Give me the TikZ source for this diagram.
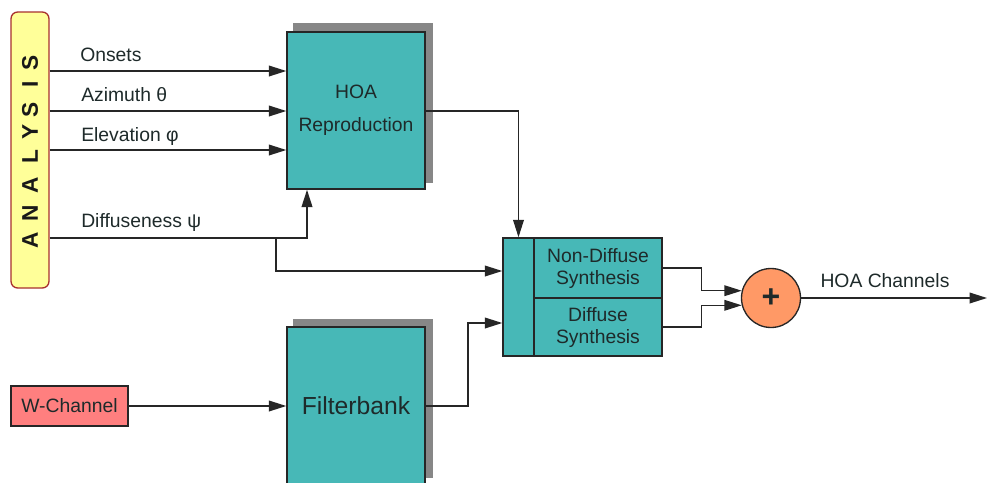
\documentclass[tikz,border=0pt]{standalone}
\usepackage{fontspec}
\setmainfont{Liberation Sans}
\usetikzlibrary{arrows.meta,calc}
\definecolor{teal}{HTML}{47B8B7}
\definecolor{shad}{HTML}{878787}
\definecolor{txt}{HTML}{1E2A2A}
\definecolor{anafill}{HTML}{FFFF99}
\definecolor{anadraw}{HTML}{A8302E}
\definecolor{wfill}{HTML}{FF7F7F}
\definecolor{sumfill}{HTML}{FF9966}
\begin{document}
\begin{tikzpicture}[x=0.75pt,y=-0.75pt,
  lbl/.style={font=\fontsize{14.5}{17}\selectfont,text=txt,inner sep=0pt},
  blk/.style={draw=black!85,line width=1.1pt,fill=teal,inner sep=0pt,text=txt,align=center},
  arr/.style={line width=1pt,draw=black!85,-{Triangle[length=13pt,width=8pt]}},
  ln/.style={line width=1pt,draw=black!85},
  letter/.style={font=\bfseries\fontsize{17}{19}\selectfont,rotate=90,inner sep=0pt,text=black!90}]
\useasboundingbox (0,0) rectangle (988,482);
\clip (0,0) rectangle (988,482);
% shadows
\fill[shad] (293,23) rectangle (433,183);
\fill[shad] (293,319) rectangle (433,478);
% analysis
\node[draw=anadraw,fill=anafill,line width=1pt,rounded corners=5pt,minimum width=28.5pt,minimum height=207pt,inner sep=0pt] (ana) at (30,150) {};
\foreach \l/\y [count=\i] in {A/240,N/213,A/185,L/157,Y/132,S/110,I/84,S/63}
  \node[letter] (al\i) at (30,\y) {\l};
% blocks
\node[blk,minimum width=103.5pt,minimum height=117.75pt,font=\fontsize{14.5}{24.75}\selectfont] (hoa) at (356,110.5) {HOA\\Reproduction};
\node[blk,minimum width=103.5pt,minimum height=144.75pt] (fb) at (356,423.5) {};
\node[font=\fontsize{18.5}{22}\selectfont,text=txt,inner sep=0pt] (fbl) at (356,406) {Filterbank};
\node[draw=black!85,line width=1pt,fill=wfill,minimum width=87.75pt,minimum height=30pt,inner sep=0pt,lbl] (wch) at (69.5,406) {W-Channel};
\node[blk,minimum width=23.25pt,minimum height=88.5pt] (syn) at (518.5,297) {};
\node[blk,minimum width=96pt,minimum height=45pt,font=\fontsize{14.5}{16.5}\selectfont] (nd) at (598,268) {Non-Diffuse\\Synthesis};
\node[blk,minimum width=96pt,minimum height=43.5pt,font=\fontsize{14.5}{16.5}\selectfont] (df) at (598,327) {Diffuse\\Synthesis};
\node[circle,draw=black!85,line width=1pt,fill=sumfill,minimum size=44.25pt,inner sep=0pt,font=\bfseries\fontsize{24}{24}\selectfont,text=txt] (sum) at (771,298) {+};
\coordinate (out) at (987,298);
% labels
\node[lbl,anchor=west] (l1) at (80,55) {Onsets};
\node[lbl,anchor=west] (l2) at (81,95) {Azimuth θ};
\node[lbl,anchor=west] (l3) at (81,136) {Elevation φ};
\node[lbl,anchor=west] (l4) at (81,222) {Diffuseness ψ};
\node[lbl] (l5) at (885,281) {HOA Channels};
% connectors
\draw[arr] (ana.east |- 0,71) -- (hoa.west |- 0,71);
\draw[arr] (ana.east |- 0,111) -- (hoa.west |- 0,111);
\draw[arr] (ana.east |- 0,150) -- (hoa.west |- 0,150);
\draw[arr,line width=1.3pt] (ana.east |- 0,238) -| (hoa.south -| 307,0);
\coordinate (br) at (276,238);
\draw[arr] (br) |- (syn.west |- 0,271);
\draw[arr] (hoa.east |- 0,111) -| (syn.north);
\draw[arr] (wch.east) -- (fb.west |- wch.east);
\draw[arr] (fb.east |- 0,406) -- (468,406) |- (syn.west |- 0,323);
\draw[arr] (nd.east) -- ++(39,0) |- (sum.166);
\draw[arr] (df.east) -- ++(39,0) |- (sum.194);
\draw[arr] (sum.east) -- (out);
\end{tikzpicture}
\end{document}
